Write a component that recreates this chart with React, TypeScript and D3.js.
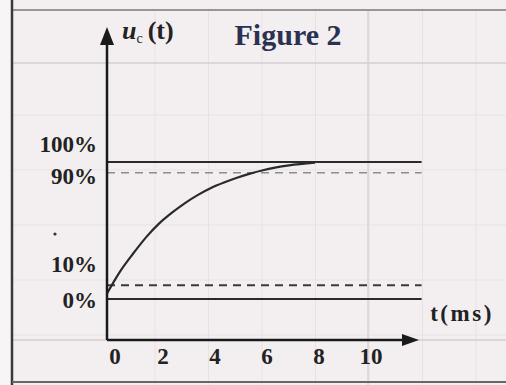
import React from 'react';
import * as d3 from 'd3';

// t in ms, u_c in % of the final value
const curveT = [0, 0.5, 1, 1.5, 2, 2.5, 3, 3.5, 4, 4.5, 5, 5.5, 6, 7, 8];
const curveU = [4, 20, 33, 45, 55, 63, 70, 76, 81, 85, 88.5, 91.5, 94, 97.5, 99.5];
const xTicks = [0, 2, 4, 6, 8, 10];
const yLabels = ['100%', '90%', '10%', '0%'];
const yLabelValues = [100, 90, 10, 0];
const solidLevels = [100, 0];
const dashedLevels = [90, 10];

const W = 506;
const H = 385;
const ink = '#2a2a2a';
const serif = '"Liberation Serif", "DejaVu Serif", serif';

export default function App() {
  const x = d3.scaleLinear().domain([0, 12]).range([107, 419]);
  const y = d3.scaleLinear().domain([0, 100]).range([299, 162]);
  const axisY = 340;
  const axisTop = 27;
  const lineEnd = x(12.1);

  // the printed labels and the 90% rule sit a little off their values
  const labelNudge: Record<number, number> = { 100: -18, 90: 0, 10: -21, 0: 1 };
  const dashNudge: Record<number, number> = { 90: -3, 10: 0 };

  const pts = curveT.map((t, i) => [t, curveU[i]] as [number, number]);
  const curve = d3.line<[number, number]>()
    .x(d => x(d[0]))
    .y(d => y(d[1]))
    .curve(d3.curveMonotoneX)(pts) || '';

  const gridX = d3.range(155, W, 53.5);
  const gridY = d3.range(115, 340, 55);

  return (
    <svg width={W} height={H} style={{ position: 'absolute', left: 0, top: 0, background: '#f3eff0' }}>
      {/* paper */}
      <rect x={0} y={0} width={W} height={H} fill="#f3eff0" />
      <rect x={0} y={0} width={12} height={H} fill="#f7f5f5" />
      {/* faint notebook grid */}
      <g stroke="#e8e1e4" strokeWidth={1}>
        {gridX.map(gx => <line key={'gx' + gx} x1={gx} x2={gx} y1={10} y2={H} />)}
        {gridY.map(gy => <line key={'gy' + gy} x1={12} x2={W} y1={gy} y2={gy} />)}
      </g>
      <g stroke="#d6ced1" strokeWidth={1.3}>
        <line x1={12} x2={W} y1={63} y2={63} />
        <line x1={12} x2={W} y1={axisY} y2={axisY} />
        <line x1={368} x2={368} y1={10} y2={H} />
      </g>
      <line x1={12} x2={W} y1={10} y2={10} stroke="#9a9496" strokeWidth={2} />
      <line x1={12} x2={12} y1={0} y2={H} stroke="#3a3a3a" strokeWidth={2.5} />
      <line x1={12} x2={W} y1={382} y2={382} stroke="#6a6567" strokeWidth={2} />

      {/* reference levels */}
      {solidLevels.map(v => (
        <line key={'s' + v} x1={x(0)} x2={lineEnd} y1={y(v)} y2={y(v)} stroke={ink} strokeWidth={2} />
      ))}
      {dashedLevels.map(v => (
        <line key={'d' + v} x1={x(0)} x2={lineEnd} y1={y(v) + dashNudge[v]} y2={y(v) + dashNudge[v]}
          stroke={v > 50 ? '#8f8a8c' : '#3a3a3a'} strokeWidth={v > 50 ? 1.5 : 2} strokeDasharray="8,6" />
      ))}

      {/* response */}
      <path d={curve} fill="none" stroke={ink} strokeWidth={2.2} />

      {/* axes */}
      <line x1={x(0)} x2={x(0)} y1={axisY} y2={axisTop + 14} stroke="#1a1a1a" strokeWidth={2.5} />
      <path d={`M${x(0)},${axisTop} L${x(0) - 7},${axisTop + 18} L${x(0) + 7},${axisTop + 18} Z`} fill="#1a1a1a" />
      <line x1={x(0)} x2={x(12) - 12} y1={axisY} y2={axisY} stroke="#1a1a1a" strokeWidth={2.5} />
      <path d={`M${x(12)},${axisY} L${x(12) - 17},${axisY - 6} L${x(12) - 17},${axisY + 6} Z`} fill="#1a1a1a" />

      {/* tick labels */}
      <g fontFamily={serif} fontWeight="bold" fontSize={23} fill="#222">
        {xTicks.map(t => (
          <text key={t} x={x(t) + (t === 0 ? 8 : 4)} y={364} textAnchor="middle">{t}</text>
        ))}
        {yLabels.map((s, i) => (
          <text key={s} x={97} y={y(yLabelValues[i]) + labelNudge[yLabelValues[i]]} dy="0.35em" textAnchor="end">{s}</text>
        ))}
        <text x={462} y={313} dy="0.35em" textAnchor="middle" fontSize={23} letterSpacing={2.5}>t(ms)</text>
      </g>
      <circle cx={55} cy={234} r={1.6} fill="#333" />

      {/* axis title and figure caption */}
      <text x={122} y={39} fontFamily={serif} fontSize={26} fill="#222">
        <tspan fontStyle="italic" fontWeight="bold">u</tspan>
        <tspan fontSize={14} dy={4}>c</tspan>
        <tspan dy={-4} dx={5} fontWeight="bold">(t)</tspan>
      </text>
      <text x={288} y={45} textAnchor="middle" fontFamily={serif} fontWeight="bold" fontSize={30} fill="#2b3150">Figure 2</text>
    </svg>
  );
}
